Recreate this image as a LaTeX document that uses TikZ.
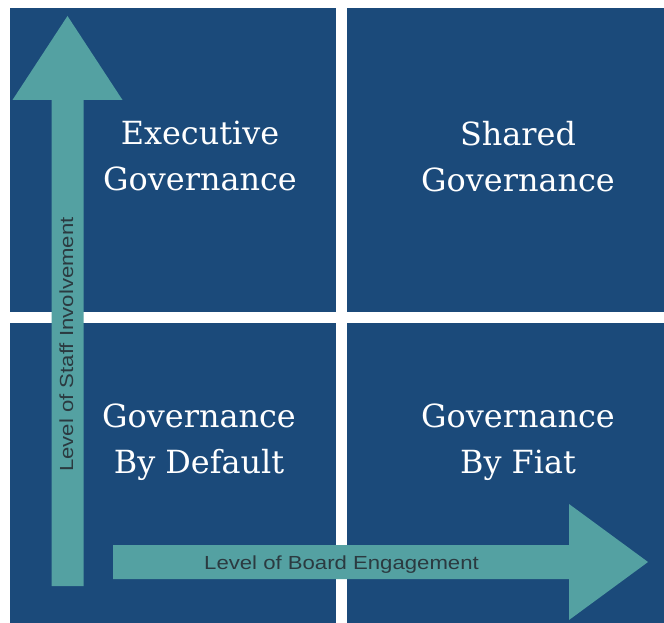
\documentclass[tikz,border=0pt]{standalone}
\usepackage{fontspec}
\newfontfamily\quadfont{DejaVu Serif}
\newfontfamily\axisfont[FakeStretch=1.17]{Liberation Sans}
\definecolor{quadblue}{HTML}{1B4A7A}
\definecolor{arrowteal}{HTML}{54A1A2}
\definecolor{labelgrey}{HTML}{2B3A40}
\tikzset{
  quad/.style={fill=quadblue},
  quadtext/.style={text=white, align=center, inner sep=0pt, anchor=north,
    font=\quadfont\fontsize{32}{46}\selectfont},
  arrowbody/.style={fill=arrowteal},
  axislabel/.style={text=labelgrey, inner sep=0pt, anchor=base,
    font=\axisfont\fontsize{19}{23}\selectfont},
}
\begin{document}
\begin{tikzpicture}[x=1bp,y=-1bp]
  \useasboundingbox[fill=white] (0,0) rectangle (664,623);
  % quadrants
  \fill[quad] (10,8) rectangle (336,312);
  \fill[quad] (347,8) rectangle (664,312);
  \fill[quad] (10,323) rectangle (336,623);
  \fill[quad] (347,323) rectangle (664,623);
  % arrows
  \fill[arrowbody] (51.5,586) -- (51.5,100) -- (12.5,100) -- (67.5,16)
    -- (122.5,100) -- (83.5,100) -- (83.5,586) -- cycle;
  \fill[arrowbody] (113,545) -- (569,545) -- (569,504) -- (648,562)
    -- (569,620) -- (569,579) -- (113,579) -- cycle;
  % labels
  \node[quadtext] (exec) at (200,121) {Executive\\Governance};
  \node[quadtext] (shared) at (518,121) {Shared\\Governance};
  \node[quadtext] (default) at (199,404) {Governance\\By Default};
  \node[quadtext] (fiat) at (518,404) {Governance\\By Fiat};
  \node[axislabel, rotate=90] (staff) at (73,344.5) {Level of Staff Involvement};
  \node[axislabel] (board) at (341.5,569) {Level of Board Engagement};
\end{tikzpicture}
\end{document}
